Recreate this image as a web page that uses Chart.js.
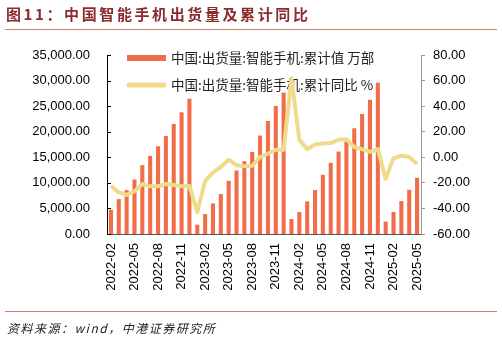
<!DOCTYPE html>
<html>
<head>
<meta charset="utf-8">
<script src="https://cdn.jsdelivr.net/npm/chart.js@4.4.0/dist/chart.umd.min.js"></script>
<style>
  html, body { margin: 0; padding: 0; background: #fff; }
  #wrap { position: relative; width: 502px; height: 340px; overflow: hidden; }
  #chart { position: absolute; left: 0; top: 0; }
  .title { position: absolute; left: 6px; top: 3px; font: bold 15px 'Noto Sans CJK SC', sans-serif; letter-spacing: 2.6px; color: #8b2c2c; }
  .rule { position: absolute; left: 5px; width: 492px; height: 1px; background: #c9826f; }
  .source { position: absolute; left: 7px; top: 319px; font: italic 12px 'Noto Sans CJK SC', sans-serif; letter-spacing: 1.5px; color: #222; }
</style>
</head>
<body>
<div id="wrap">
  <canvas id="chart" width="502" height="340"></canvas>
  <div class="title">图11：中国智能手机出货量及累计同比</div>
  <div class="rule" style="top:29px"></div>
  <div class="rule" style="top:311px"></div>
  <div class="source">资料来源：wind，中港证券研究所</div>
</div>
<script>
const months = [
  '2022-02', '2022-03', '2022-04', '2022-05', '2022-06', '2022-07', '2022-08', '2022-09', '2022-10', '2022-11', '2022-12',
  '2023-01', '2023-02', '2023-03', '2023-04', '2023-05', '2023-06', '2023-07', '2023-08', '2023-09', '2023-10', '2023-11', '2023-12',
  '2024-01', '2024-02', '2024-03', '2024-04', '2024-05', '2024-06', '2024-07', '2024-08', '2024-09', '2024-10', '2024-11', '2024-12',
  '2025-01', '2025-02', '2025-03', '2025-04', '2025-05'
];
// 累计值 万部
const shipments = [
  4745, 6825, 8580, 10660, 13455, 15275, 17160, 19175, 21515, 23790, 26455,
  1820, 3900, 5980, 7800, 10400, 12415, 14235, 16055, 19240, 22100, 25025, 27690,
  2925, 4290, 6370, 8600, 11570, 13910, 16120, 18070, 20670, 23465, 26260, 29575,
  2405, 4290, 6435, 8645, 10985
];
// 累计同比 %
const yoy = [
  -22.5, -27.4, -29.5, -26.6, -20.9, -22.7, -22.7, -20.9, -21.7, -22.7, -22.4,
  -43.0, -18.5, -11.8, -7.6, -1.9, -6.3, -7.1, -6.6, 0.2, 2.8, 5.9, 5.9,
  61.8, 13.7, 6.4, 10.0, 10.8, 11.1, 13.7, 14.2, 8.0, 6.4, 4.3, 6.4,
  -17.0, -0.6, 1.2, 0.2, -5.0
];
const leftTicks = [0, 5000, 10000, 15000, 20000, 25000, 30000, 35000];
const rightTicks = [-60, -40, -20, 0, 20, 40, 60, 80];
const seriesNames = ['中国:出货量:智能手机:累计值 万部', '中国:出货量:智能手机:累计同比 %'];

const barColor = '#f06d47';
const lineColor = '#efdb8b';

Chart.defaults.font.family = "'Liberation Sans', Arial, sans-serif";
Chart.defaults.font.size = 13;
Chart.defaults.color = '#000';

// legend drawn inside the plot, under the data
const innerLegend = {
  id: 'innerLegend',
  beforeDatasetsDraw(chart) {
    const ctx = chart.ctx;
    const a = chart.chartArea;
    ctx.save();
    ctx.fillStyle = barColor;
    ctx.fillRect(a.left + 20, a.top, 39, 6);
    ctx.strokeStyle = lineColor;
    ctx.lineWidth = 5;
    ctx.lineCap = 'round';
    ctx.beginPath();
    ctx.moveTo(a.left + 22, a.top + 30);
    ctx.lineTo(a.left + 57, a.top + 30);
    ctx.stroke();
    ctx.fillStyle = '#222';
    ctx.font = "13.5px 'Noto Sans CJK SC', sans-serif";
    ctx.textBaseline = 'middle';
    ctx.fillText(seriesNames[0], a.left + 64, a.top + 3);
    ctx.fillText(seriesNames[1], a.left + 64, a.top + 30);
    ctx.restore();
  },
  afterDraw(chart) {
    // short inward ticks on the left axis
    const ctx = chart.ctx;
    const s = chart.scales.y;
    const a = chart.chartArea;
    ctx.save();
    ctx.strokeStyle = '#000';
    ctx.lineWidth = 1;
    s.ticks.forEach(t => {
      const y = Math.round(s.getPixelForValue(t.value)) + 0.5;
      ctx.beginPath();
      ctx.moveTo(a.left, y);
      ctx.lineTo(a.left + 4, y);
      ctx.stroke();
    });
    ctx.restore();
  }
};

new Chart(document.getElementById('chart').getContext('2d'), {
  data: {
    labels: months,
    datasets: [
      {
        type: 'line',
        label: seriesNames[1],
        data: yoy,
        yAxisID: 'y1',
        borderColor: lineColor,
        borderWidth: 4,
        tension: 0,
        pointRadius: 0,
        borderJoinStyle: 'round',
        order: 0
      },
      {
        type: 'bar',
        label: seriesNames[0],
        data: shipments,
        yAxisID: 'y',
        backgroundColor: barColor,
        categoryPercentage: 1,
        barPercentage: 0.52,
        order: 1
      }
    ]
  },
  options: {
    responsive: false,
    animation: false,
    layout: { padding: { top: 55, left: 0, right: 0, bottom: 0 } },
    plugins: {
      legend: { display: false },
      tooltip: { enabled: false }
    },
    scales: {
      x: {
        grid: { display: false, drawTicks: false },
        border: { display: true, color: '#555' },
        ticks: {
          autoSkip: false,
          minRotation: 90,
          maxRotation: 90,
          padding: 9,
          callback: function (v, i) {
            return i % 3 === 0 ? months[i] : '';
          }
        },
        afterFit: function (scale) { scale.height = 106; }
      },
      y: {
        position: 'left',
        min: 0,
        max: 35000,
        afterBuildTicks: function (scale) {
          scale.ticks = leftTicks.map(v => ({ value: v }));
        },
        grid: { display: false, drawTicks: false },
        border: { display: true, color: '#000' },
        ticks: {
          padding: 17,
          callback: function (v) {
            return Number(v).toLocaleString('en-US', { minimumFractionDigits: 2, maximumFractionDigits: 2 });
          }
        },
        afterFit: function (scale) { scale.width = 107; }
      },
      y1: {
        position: 'right',
        min: -60,
        max: 80,
        afterBuildTicks: function (scale) {
          scale.ticks = rightTicks.map(v => ({ value: v }));
        },
        grid: { display: true, drawOnChartArea: false, drawTicks: true, tickLength: 4, color: '#999' },
        border: { display: true, color: '#999' },
        ticks: {
          padding: 8,
          callback: function (v) { return Number(v).toFixed(2); }
        },
        afterFit: function (scale) { scale.width = 81; }
      }
    }
  },
  plugins: [innerLegend]
});
</script>
</body>
</html>
